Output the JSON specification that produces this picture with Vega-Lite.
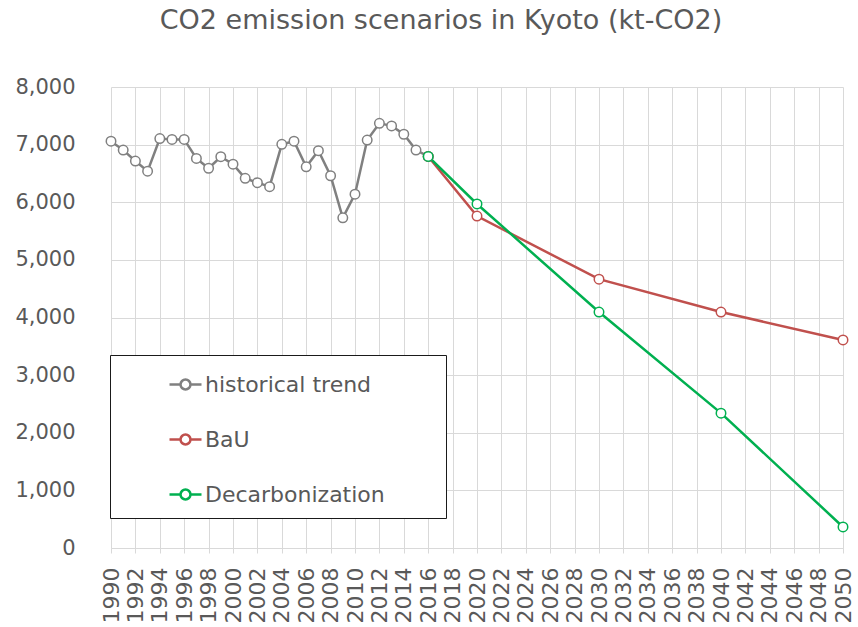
{
  "$schema": "https://vega.github.io/schema/vega-lite/v6.json",
  "autosize": "none",
  "width": 732,
  "height": 461,
  "padding": {"left": 111, "top": 87, "right": 15, "bottom": 79},
  "background": "white",
  "title": {
    "text": "CO2 emission scenarios in Kyoto (kt-CO2)",
    "font": "DejaVu Sans",
    "fontSize": 27,
    "fontWeight": "normal",
    "color": "#595959",
    "anchor": "middle",
    "dx": -36,
    "offset": 41
  },
  "config": {
    "view": {"stroke": null},
    "axis": {
      "labelFont": "DejaVu Sans",
      "labelColor": "#595959",
      "gridColor": "#d9d9d9",
      "gridWidth": 1,
      "title": null
    }
  },
  "data": {
    "values": [
      {"year": 1990, "value": 7060, "series": "historical trend"},
      {"year": 1991, "value": 6905, "series": "historical trend"},
      {"year": 1992, "value": 6715, "series": "historical trend"},
      {"year": 1993, "value": 6540, "series": "historical trend"},
      {"year": 1994, "value": 7105, "series": "historical trend"},
      {"year": 1995, "value": 7090, "series": "historical trend"},
      {"year": 1996, "value": 7090, "series": "historical trend"},
      {"year": 1997, "value": 6760, "series": "historical trend"},
      {"year": 1998, "value": 6590, "series": "historical trend"},
      {"year": 1999, "value": 6790, "series": "historical trend"},
      {"year": 2000, "value": 6660, "series": "historical trend"},
      {"year": 2001, "value": 6415, "series": "historical trend"},
      {"year": 2002, "value": 6340, "series": "historical trend"},
      {"year": 2003, "value": 6270, "series": "historical trend"},
      {"year": 2004, "value": 7005, "series": "historical trend"},
      {"year": 2005, "value": 7060, "series": "historical trend"},
      {"year": 2006, "value": 6615, "series": "historical trend"},
      {"year": 2007, "value": 6895, "series": "historical trend"},
      {"year": 2008, "value": 6460, "series": "historical trend"},
      {"year": 2009, "value": 5730, "series": "historical trend"},
      {"year": 2010, "value": 6140, "series": "historical trend"},
      {"year": 2011, "value": 7080, "series": "historical trend"},
      {"year": 2012, "value": 7370, "series": "historical trend"},
      {"year": 2013, "value": 7325, "series": "historical trend"},
      {"year": 2014, "value": 7180, "series": "historical trend"},
      {"year": 2015, "value": 6905, "series": "historical trend"},
      {"year": 2016, "value": 6795, "series": "historical trend"},
      {"year": 2016, "value": 6795, "series": "BaU"},
      {"year": 2020, "value": 5760, "series": "BaU"},
      {"year": 2030, "value": 4665, "series": "BaU"},
      {"year": 2040, "value": 4095, "series": "BaU"},
      {"year": 2050, "value": 3610, "series": "BaU"},
      {"year": 2016, "value": 6795, "series": "Decarbonization"},
      {"year": 2020, "value": 5970, "series": "Decarbonization"},
      {"year": 2030, "value": 4095, "series": "Decarbonization"},
      {"year": 2040, "value": 2340, "series": "Decarbonization"},
      {"year": 2050, "value": 365, "series": "Decarbonization"}
    ]
  },
  "mark": {
    "type": "line",
    "strokeWidth": 2.5,
    "point": {"filled": false, "fill": "white", "size": 90, "strokeWidth": 1.5}
  },
  "encoding": {
    "x": {
      "field": "year",
      "type": "quantitative",
      "scale": {"domain": [1990, 2050], "nice": false, "zero": false},
      "axis": {
        "values": [1990,1992,1994,1996,1998,2000,2002,2004,2006,2008,2010,2012,2014,2016,2018,2020,2022,2024,2026,2028,2030,2032,2034,2036,2038,2040,2042,2044,2046,2048,2050],
        "format": "d",
        "labelAngle": -90,
        "labelAlign": "right",
        "labelBaseline": "middle",
        "labelFontSize": 22,
        "labelPadding": 14,
        "labelOverlap": false,
        "labelBound": false,
        "labelFlush": false,
        "domainColor": "#d9d9d9",
        "domainWidth": 1,
        "tickColor": "#d9d9d9",
        "tickSize": 5,
        "grid": true
      }
    },
    "y": {
      "field": "value",
      "type": "quantitative",
      "scale": {"domain": [0, 8000], "nice": false},
      "axis": {
        "values": [0,1000,2000,3000,4000,5000,6000,7000,8000],
        "format": ",d",
        "labelFontSize": 21,
        "labelPadding": 36,
        "domain": false,
        "ticks": false,
        "grid": true
      }
    },
    "color": {
      "field": "series",
      "type": "nominal",
      "sort": ["historical trend", "BaU", "Decarbonization"],
      "scale": {
        "domain": ["historical trend", "BaU", "Decarbonization"],
        "range": ["#808080", "#c0504d", "#00b050"]
      },
      "legend": {
        "title": null,
        "orient": "none",
        "legendX": -1,
        "legendY": 268,
        "direction": "vertical",
        "strokeColor": "#1a1a1a",
        "fillColor": "white",
        "padding": 12,
        "symbolOffset": 46,
        "symbolType": "M-1,0L-0.31,0M0.31,0L1,0M-0.31,0A0.31,0.31 0 1,1 0.31,0A0.31,0.31 0 1,1 -0.31,0Z",
        "symbolSize": 1024,
        "symbolStrokeWidth": 2.5,
        "symbolFillColor": "white",
        "labelFont": "DejaVu Sans",
        "labelFontSize": 22,
        "labelColor": "#595959",
        "labelOffset": 2,
        "labelLimit": 500,
        "rowPadding": 26,
        "labelExpr": "datum.label + '\u2800\u2800\u2800'"
      }
    }
  }
}
